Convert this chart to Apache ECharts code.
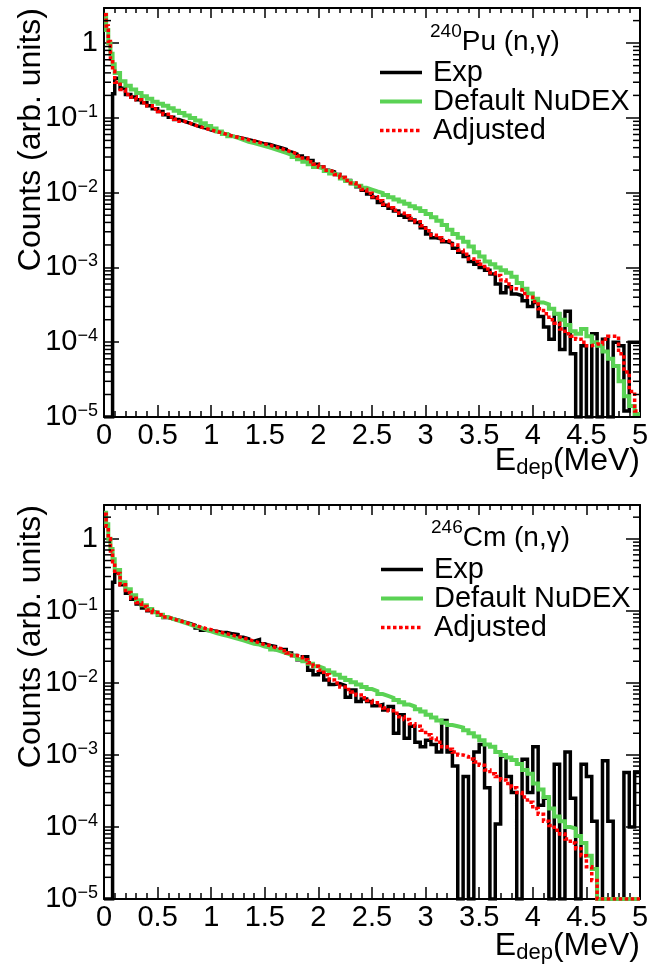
<!DOCTYPE html>
<html><head><meta charset="utf-8">
<script src="https://cdn.jsdelivr.net/npm/echarts@6/dist/echarts.min.js"></script>
<style>html,body{margin:0;padding:0;background:#fff}#c{width:663px;height:966px}</style>
</head><body><div id="c"></div><script>
// ---------- data ----------
const fineEdges = [0, 0.02, 0.04, 0.06, 0.08];      // fine bins near 0 (MeV)
const coarseStart = 0.10, binWidth = 0.05, xMin = 0, xMax = 5.0;
const yMin = 1e-5, yMax = 2.95;
const seriesNames = ['Exp', 'Default NuDEX', 'Adjusted'];
const xTickLabels = ['0','0.5','1','1.5','2','2.5','3','3.5','4','4.5','5'];
const yTickExponents = [-5, -4, -3, -2, -1, 0];
const yMinorMantissas = [2, 3, 4, 5, 6, 7, 8, 9];

// 240Pu(n,g)
const puExp = [0,0,0,0,0.21, 0.34,0.25,0.205,0.19,0.175, 0.16,0.145,0.133,0.122,0.110, 0.102,0.095,0.090,0.085,0.080, 0.076,0.073,0.069,0.066,0.063, 0.060,0.057,0.055,0.053,0.051, 0.049,0.047,0.045,0.044,0.042, 0.040,0.038,0.035,0.033,0.031, 0.029,0.027,0.024,0.022,0.020, 0.019,0.0175,0.016,0.0145,0.0133, 0.012,0.0108,0.0096,0.0086,0.0074, 0.0068,0.0062,0.0057,0.0050,0.0047, 0.0043,0.0040,0.0034,0.0028,0.0025, 0.0024,0.0022,0.0021,0.0018,0.0016, 0.0014,0.0012,0.0011,0.0010,0.00092, 0.00082,0.00060,0.00046,0.00055,0.00044, 0.00042,0.00036,0.00030,0.00034,0.00022, 0.00016,0.00011,0.00024,0.00008,0.00026, 0.00007,0,0.00009,0,0.00013, 0,0.00011,0,0.0001,0.00009, 0.000012,0.0001,0.0001];
const puNudex = [2.4,1.5,1.0,0.72,0.52, 0.40,0.31,0.27,0.24,0.215, 0.195,0.18,0.165,0.155,0.145, 0.135,0.125,0.116,0.108,0.100, 0.092,0.085,0.078,0.072,0.066, 0.061,0.057,0.054,0.051,0.048, 0.046,0.044,0.042,0.040,0.038, 0.036,0.034,0.032,0.030,0.028, 0.026,0.024,0.022,0.021,0.0195, 0.018,0.017,0.0155,0.0143,0.0133, 0.0124,0.0116,0.0110,0.0104,0.0099, 0.0093,0.0087,0.0081,0.0076,0.0071, 0.0066,0.0062,0.0057,0.0052,0.0047, 0.0042,0.0037,0.0032,0.0028,0.0025, 0.0022,0.0019,0.0016,0.0014,0.0012, 0.0011,0.0010,0.00092,0.00085,0.00075, 0.00062,0.00052,0.00045,0.00038,0.00034, 0.00032,0.00028,0.00024,0.00020,0.00017, 0.00014,0.00013,0.00015,0.00012,0.0001, 0.00009,0.000075,0.00006,0.000048,0.00003, 0.000019,0.000014,0.000011];
const puAdjusted = [2.4,1.7,1.05,0.62,0.42, 0.30,0.24,0.205,0.19,0.175, 0.16,0.145,0.132,0.122,0.112, 0.103,0.096,0.090,0.085,0.080, 0.076,0.072,0.069,0.066,0.063, 0.060,0.057,0.055,0.053,0.051, 0.049,0.047,0.045,0.043,0.041, 0.039,0.037,0.035,0.033,0.031, 0.029,0.026,0.024,0.022,0.020, 0.019,0.0175,0.016,0.0145,0.0135, 0.0122,0.011,0.0098,0.0088,0.0078, 0.0070,0.0063,0.0058,0.0053,0.0049, 0.0045,0.0041,0.0036,0.0031,0.0027, 0.0025,0.0023,0.0022,0.0020,0.0017, 0.0015,0.0013,0.0012,0.0011,0.00095, 0.00085,0.00078,0.00068,0.00060,0.00052, 0.00050,0.00045,0.00040,0.00035,0.00028, 0.00024,0.00020,0.00018,0.00015,0.00013, 0.00012,0.00011,0.0001,0.00009,0.000095, 0.000095,0.00011,0.00012,0.00012,0.00007, 0.00004,0.000022,0.000012];

// 246Cm(n,g)
const cmExp = [0,0,0,0,0.25, 0.34,0.23,0.175,0.145,0.125, 0.11,0.10,0.094,0.087,0.081, 0.077,0.074,0.070,0.067,0.063, 0.058,0.054,0.053,0.052,0.050, 0.050,0.048,0.047,0.043,0.041, 0.038,0.040,0.035,0.033,0.032, 0.029,0.029,0.026,0.024,0.021, 0.023,0.015,0.013,0.014,0.011, 0.0095,0.0098,0.0092,0.0063,0.0080, 0.0055,0.0060,0.0055,0.0048,0.0050, 0.0042,0.0047,0.0020,0.0036,0.0017, 0.0025,0.0015,0.0013,0.0016,0.0014, 0.0011,0.0030,0.0011,0.0007,0, 0.0005,0,0.0011,0.0014,0.00035, 0,0.00011,0.00097,0.0005,0.0003, 0,0.00087,0.0003,0.0013,0.0002, 0.00025,0,0.00074,0,0.0011, 0.00025,0,0.00074,0.0005,0.00012, 0,0.00083,0.00012,0,0, 0.00057,0.0001,0.00057];
const cmNudex = [2.3,1.6,1.0,0.72,0.52, 0.37,0.25,0.20,0.165,0.14, 0.12,0.106,0.096,0.088,0.082, 0.077,0.073,0.069,0.065,0.061, 0.058,0.055,0.052,0.049,0.047, 0.045,0.043,0.041,0.039,0.037, 0.035,0.034,0.032,0.031,0.029, 0.0275,0.026,0.0245,0.023,0.0215, 0.020,0.0185,0.017,0.016,0.015, 0.014,0.013,0.0118,0.011,0.0102, 0.0095,0.0088,0.0082,0.0077,0.0070, 0.0066,0.0062,0.0058,0.0054,0.0050, 0.0047,0.0043,0.0040,0.0036,0.0033, 0.0030,0.0028,0.0026,0.0025,0.0024, 0.0022,0.0020,0.0018,0.0016,0.0014, 0.0013,0.0011,0.0010,0.00092,0.00085, 0.00075,0.00062,0.00055,0.00040,0.00033, 0.00026,0.00018,0.00014,0.00012,0.00010, 0.000095,0.000075,0.000060,0.000040,0.000026, 0,0,0,0,0, 0,0,0];
const cmAdjusted = [2.2,1.5,1.0,0.68,0.48, 0.33,0.23,0.18,0.15,0.13, 0.115,0.103,0.095,0.088,0.082, 0.077,0.073,0.070,0.066,0.063, 0.060,0.057,0.055,0.052,0.050, 0.048,0.046,0.044,0.042,0.040, 0.038,0.036,0.034,0.033,0.031, 0.030,0.028,0.026,0.024,0.023, 0.021,0.019,0.017,0.015,0.013, 0.011,0.010,0.0088,0.0081,0.0075, 0.0068,0.0062,0.0057,0.0053,0.0048, 0.0045,0.0041,0.0038,0.0034,0.0031, 0.0027,0.0025,0.0022,0.0019,0.0017, 0.0015,0.0013,0.0012,0.0011,0.0010, 0.00095,0.00088,0.00080,0.00072,0.00062, 0.00055,0.00050,0.00045,0.00040,0.00035, 0.00030,0.00026,0.00022,0.00018,0.00015, 0.00012,0.000105,0.00009,0.00008,0.000068, 0.00006,0.00005,0.00004,0.000028,0.000018, 0,0,0,0,0, 0,0,0];

// ---------- build ----------
const FONT = '"Liberation Sans", Arial, Helvetica, sans-serif';
const COL = { exp: '#000000', nudex: '#5ad254', adj: '#ff0000' };

const edges = fineEdges.slice();
for (let k = 0; k <= Math.round((xMax - coarseStart) / binWidth); k++) edges.push(+(coarseStart + k * binWidth).toFixed(2));

// ROOT draws empty bins on the bottom of the frame
function histData(vals) {
  const d = [];
  for (let i = 0; i < vals.length; i++) d.push([edges[i], vals[i] > 0 ? vals[i] : yMin]);
  const last = vals[vals.length - 1];
  d.push([edges[vals.length], last > 0 ? last : yMin]);
  return d;
}

const yMinorValues = [];
yTickExponents.forEach(e => yMinorMantissas.forEach(m => {
  const v = +(m * Math.pow(10, e)).toPrecision(3);
  if (v < yMax) yMinorValues.push(v);
}));

function hist(name, vals, gi, color, width, dash, z) {
  return {
    type: 'line', name: name, xAxisIndex: gi * 2, yAxisIndex: gi * 2,
    data: histData(vals), step: 'end', symbol: 'none', showSymbol: false,
    clip: true, animation: false, z: z,
    lineStyle: { color: color, width: width, type: dash || 'solid', cap: 'butt', join: 'miter' },
    itemStyle: { color: color }
  };
}

function minorTicks(gi) {
  return {
    type: 'custom', xAxisIndex: gi * 2, yAxisIndex: gi * 2, silent: true, animation: false, clip: false, z: 5,
    data: yMinorValues.map(v => [xMin, v]),
    encode: { x: 0, y: 1 },
    renderItem: function (params, api) {
      const v = api.value(1);
      const l = api.coord([xMin, v]);
      const r = api.coord([xMax, v]);
      return { type: 'group', children: [
        { type: 'line', shape: { x1: l[0], y1: l[1], x2: l[0] + 7, y2: l[1] }, style: { stroke: '#000', lineWidth: 1.5 } },
        { type: 'line', shape: { x1: r[0], y1: r[1], x2: r[0] - 7, y2: r[1] }, style: { stroke: '#000', lineWidth: 1.5 } }
      ] };
    }
  };
}

const axisLine = { show: true, onZero: false, lineStyle: { color: '#000', width: 2 } };
const tickStyle = { color: '#000', width: 1.5 };

function xAxes(gi) {
  const base = {
    gridIndex: gi, type: 'value', min: xMin, max: xMax, interval: 0.5,
    axisLine: axisLine, splitLine: { show: false },
    axisTick: { show: true, inside: true, length: 12, lineStyle: tickStyle },
    minorTick: { show: true, splitNumber: 5, length: 6, lineStyle: tickStyle }
  };
  return [
    Object.assign({}, base, { position: 'bottom', axisLabel: {
      show: true, margin: 4, fontSize: 29, fontFamily: FONT, color: '#000',
      formatter: v => xTickLabels[Math.round(v / 0.5)] } }),
    Object.assign({}, base, { position: 'top', axisLabel: { show: false },
      axisTick: { show: true, inside: true, length: 10, lineStyle: tickStyle },
      minorTick: { show: true, splitNumber: 5, length: 5, lineStyle: tickStyle } })
  ];
}

function yLabel(v) {
  const e = Math.round(Math.log10(v));
  if (Math.abs(Math.log10(v) - e) > 1e-6 || yTickExponents.indexOf(e) < 0) return '';
  return e === 0 ? '{b|1}' : '{b|10}{s|\u2212' + (-e) + '}';
}

function yAxes(gi) {
  const base = {
    gridIndex: gi, type: 'log', logBase: 10, min: yMin, max: yMax,
    axisLine: axisLine, splitLine: { show: false }, minorTick: { show: false },
    axisTick: { show: true, inside: true, length: 15, lineStyle: tickStyle }
  };
  return [
    Object.assign({}, base, { position: 'left', axisLabel: {
      show: true, margin: 6, showMaxLabel: false, formatter: yLabel,
      rich: {
        b: { fontSize: 29, fontFamily: FONT, color: '#000', lineHeight: 30 },
        s: { fontSize: 18, fontFamily: FONT, color: '#000', lineHeight: 11, verticalAlign: 'top' }
      } } }),
    Object.assign({}, base, { position: 'right', axisLabel: { show: false },
      axisTick: { show: true, inside: true, length: 14, lineStyle: tickStyle } })
  ];
}

function legend(left, top) {
  return {
    orient: 'vertical', left: left, top: top, padding: 0, itemGap: 0,
    itemWidth: 42, itemHeight: 2, selectedMode: false,
    data: seriesNames,
    formatter: '{g|}{name}',
    lineStyle: { width: 'inherit' },
    textStyle: { fontSize: 29, fontFamily: FONT, color: '#000', lineHeight: 28,
      rich: { g: { width: 6, lineHeight: 28 } } }
  };
}

function yTitle(y) {
  return { type: 'text', x: 31, y: y, rotation: Math.PI / 2, silent: true,
    style: { text: 'Counts (arb. units)', fontSize: 32, fontFamily: FONT, fill: '#000',
      align: 'right', verticalAlign: 'middle' } };
}
function xTitle(y) {
  return { type: 'text', x: 640, y: y, silent: true,
    style: { text: '{e|E}{d|dep}{e|(MeV)}', align: 'right', verticalAlign: 'middle', fill: '#000',
      rich: {
        e: { fontSize: 32, fontFamily: FONT, color: '#000', lineHeight: 36 },
        d: { fontSize: 22, fontFamily: FONT, color: '#000', lineHeight: 5, verticalAlign: 'bottom' }
      } } };
}
function header(x, y, mass, elem) {
  return { type: 'text', x: x, y: y, silent: true,
    style: { text: '{s|' + mass + '}{m|' + elem + ' (n,\u03b3)}', align: 'left', verticalAlign: 'middle', fill: '#000',
      rich: {
        s: { fontSize: 19, fontFamily: FONT, color: '#000', lineHeight: 14, verticalAlign: 'top' },
        m: { fontSize: 28, fontFamily: FONT, color: '#000', lineHeight: 40 }
      } } };
}

const option = {
  animation: false,
  backgroundColor: '#ffffff',
  grid: [
    { left: 104, top: 8, width: 536, height: 409, outerBoundsMode: 'none', containLabel: false },
    { left: 104, top: 505, width: 536, height: 394, outerBoundsMode: 'none', containLabel: false }
  ],
  xAxis: xAxes(0).concat(xAxes(1)),
  yAxis: yAxes(0).concat(yAxes(1)),
  legend: [legend(378, 58), legend(379, 555)],
  series: [
    hist(seriesNames[0], puExp, 0, COL.exp, 3.5, null, 2),
    hist(seriesNames[1], puNudex, 0, COL.nudex, 4, null, 3),
    hist(seriesNames[2], puAdjusted, 0, COL.adj, 3.5, [3.5, 2.5], 4),
    hist(seriesNames[0], cmExp, 1, COL.exp, 3.5, null, 2),
    hist(seriesNames[1], cmNudex, 1, COL.nudex, 4, null, 3),
    hist(seriesNames[2], cmAdjusted, 1, COL.adj, 3.5, [3.5, 2.5], 4),
    minorTicks(0), minorTicks(1)
  ],
  graphic: [
    yTitle(8), yTitle(505),
    xTitle(461), xTitle(946),
    header(430, 42, '240', 'Pu'), header(431, 538, '246', 'Cm')
  ]
};

const chart = echarts.init(document.getElementById('c'), null, { renderer: 'canvas' });
chart.setOption(option);
</script></body></html>
